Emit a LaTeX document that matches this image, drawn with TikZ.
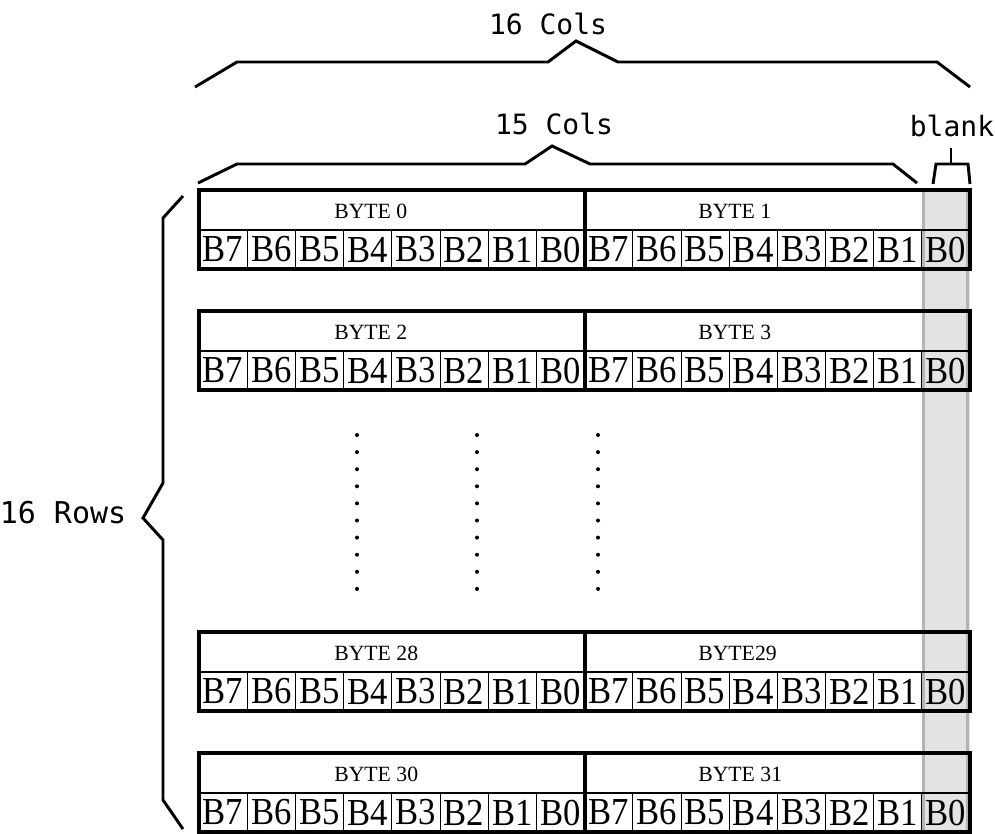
\documentclass[tikz,border=0pt]{standalone}
\usepackage{fontspec}
\setmainfont{Liberation Serif}
\newfontfamily\gothic{DejaVu Sans Mono}
\definecolor{bandfill}{HTML}{E3E3E3}
\definecolor{bandline}{HTML}{B4B4B4}

\begin{document}
\begin{tikzpicture}[x=0.75pt,y=-0.75pt]
    \tikzset{
      bitcell/.style={draw, line width=0.6pt, minimum width=36.14pt, minimum height=29.25pt,
        inner sep=0pt, font=\fontsize{26}{26}\selectfont},
      bytelabel/.style={anchor=west, inner sep=0pt, font=\fontsize{16.3}{16.3}\selectfont},
      rowframe/.style={line width=2.6pt},
      brace/.style={line width=2.2pt, line join=miter},
      caption/.style={inner sep=0pt, font=\gothic\fontsize{21}{21}\selectfont}
    }
    \useasboundingbox (0,0) rectangle (995,833);

    % Blank column (shaded)
    \fill[bandfill] (922,190) rectangle (970,833);
    \draw[bandline, line width=2.2pt] (923.5,190) -- (923.5,833);
    \draw[bandline, line width=2.2pt] (967.5,190) -- (967.5,833);

    % Byte rows
    \foreach \top/\la/\lb/\r in {190/BYTE 0/BYTE 1/ra, 311/BYTE 2/BYTE 3/rb,
                                 632/BYTE 28/BYTE29/rc, 753/BYTE 30/BYTE 31/rd} {
      \node[bytelabel] (\r-lo) at (334,\top+21) {\la};
      \node[bytelabel] (\r-hi) at (698,\top+21) {\lb};
      \foreach \i in {0,...,15} {
        \pgfmathtruncatemacro\b{7-mod(\i,8)}
        \node[bitcell] (\r-\i) at ({199+48.19*(\i+0.5)},\top+59.5) {\scalebox{1}[1.1]{B\b}};
      }
      \draw[line width=1.2pt] (199,\top+40) -- (970,\top+40);
      \draw[rowframe] (585,\top) -- (585,\top+79);
      \draw[rowframe] (199,\top) rectangle (970,\top+79);
    }

    % Omitted rows
    \foreach \x in {357,477,598}
      \foreach \k in {0,...,9}
        \fill (\x,435+17.1*\k) circle (2);

    % Braces and captions
    \node[caption] (cols16) at (548,24) {16 Cols};
    \draw[brace] (195,87) -- (237,62) -- (548,62) -- (576,41) -- (618,62) -- (937,62) -- (970,87);

    \node[caption] (cols15) at (554,124) {15 Cols};
    \draw[brace] (198,183) -- (237,164) -- (525,164) -- (552,146) -- (590,164) -- (893,164) -- (917,183);

    \node[caption] (blank) at (952,126) {blank};
    \draw[brace] (933,184) -- (936,164) -- (968,164) -- (970,184);
    \draw[brace] (951,164) -- (951,148);

    \node[caption, font=\gothic\fontsize{22.5}{22.5}\selectfont] (rows16) at (63,513) {16 Rows};
    \draw[brace] (183,196) -- (163,218) -- (163,483) -- (143,518) -- (163,540) -- (163,800) -- (183,829);
  \end{tikzpicture}
\end{document}
